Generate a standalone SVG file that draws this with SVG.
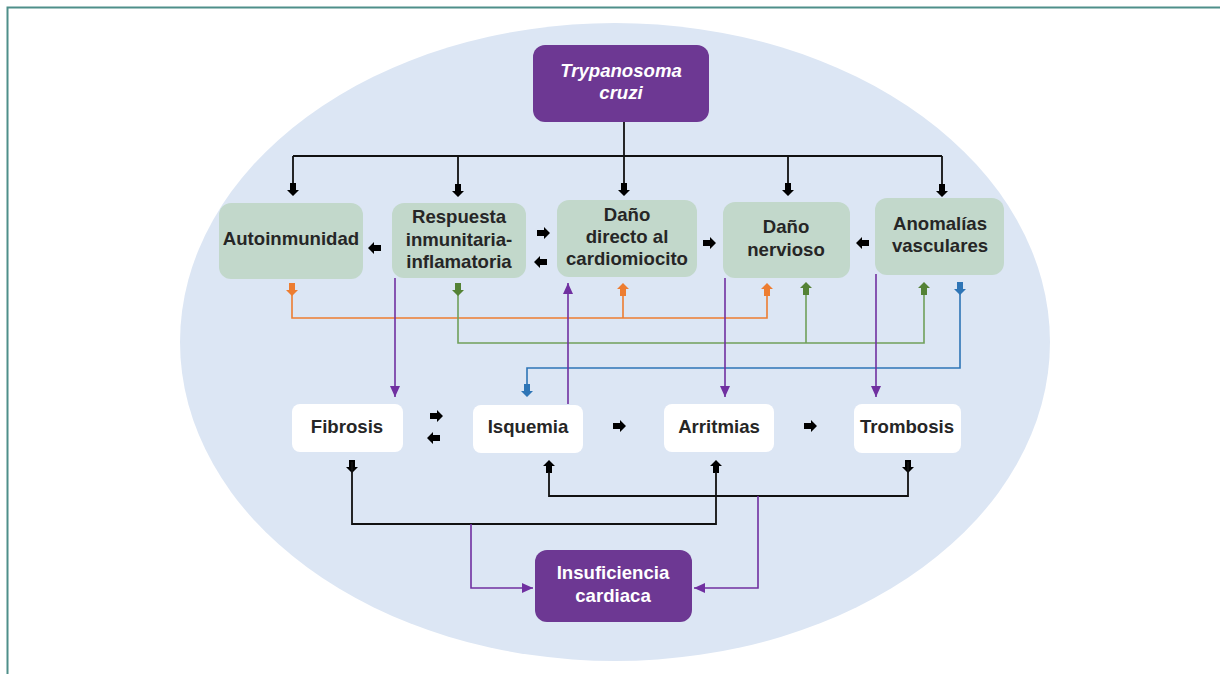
<svg xmlns="http://www.w3.org/2000/svg" xmlns:xlink="http://www.w3.org/1999/xlink" width="1220" height="674" viewBox="0 0 1220 674">
<style>
.t{font-family:"Liberation Sans",Arial,sans-serif;font-weight:bold;font-size:18.6px;fill:#262626;text-anchor:middle}
.w{fill:#ffffff}
.g{fill:#c2d8cb}
.wb{fill:#ffffff}
.p{fill:#6d3893}
.k{fill:none;stroke:#111;stroke-width:1.8}
.o{fill:none;stroke:#ed7d31;stroke-width:1.6}
.gr{fill:none;stroke:#70a05a;stroke-width:1.6}
.b{fill:none;stroke:#2e75b6;stroke-width:1.6}
.pl{fill:none;stroke:#7030a0;stroke-width:1.6}
</style>
<defs>
<path id="ad" d="M-3,-13 L3,-13 L3,-6 L6,-6 L0,0 L-6,-6 L-3,-6 Z"/>
<path id="au" d="M-3,13 L3,13 L3,6 L6,6 L0,0 L-6,6 L-3,6 Z"/>
<path id="ar" d="M-13,-3 L-6,-3 L-6,-6 L0,0 L-6,6 L-6,3 L-13,3 Z"/>
<path id="al" d="M13,-3 L6,-3 L6,-6 L0,0 L6,6 L6,3 L13,3 Z"/>
<marker id="pm" markerUnits="userSpaceOnUse" markerWidth="12" markerHeight="12" viewBox="0 0 12 12" refX="11" refY="6" orient="auto">
<path d="M0,1 L11,6 L0,11 Z" fill="#7030a0"/>
</marker>
</defs>
<rect x="0" y="0" width="1220" height="674" fill="#ffffff"/>
<path d="M7.5,674 L7.5,7.5 L1220,7.5" fill="none" stroke="#4f8f8a" stroke-width="2"/>
<ellipse cx="615" cy="342" rx="435" ry="319" fill="#dce6f4"/>

<g id="connectors">
<path class="k" d="M624,122 V156 M293,156 H942 M293,156 V184 M458,156 V184 M624,156 V184 M788,156 V184 M942,156 V184"/>
<g fill="#000">
<use xlink:href="#ad" x="293" y="196"/>
<use xlink:href="#ad" x="458" y="197"/>
<use xlink:href="#ad" x="624" y="196"/>
<use xlink:href="#ad" x="788" y="196"/>
<use xlink:href="#ad" x="942" y="197"/>
<use xlink:href="#al" x="368" y="248"/>
<use xlink:href="#ar" x="550" y="233"/>
<use xlink:href="#al" x="534" y="262"/>
<use xlink:href="#ar" x="716" y="243"/>
<use xlink:href="#al" x="856" y="243"/>
<use xlink:href="#ar" x="443" y="416"/>
<use xlink:href="#al" x="427" y="438"/>
<use xlink:href="#ar" x="626" y="426"/>
<use xlink:href="#ar" x="817" y="426"/>
<use xlink:href="#ad" x="352" y="473"/>
<use xlink:href="#au" x="549" y="460"/>
<use xlink:href="#au" x="716" y="460"/>
<use xlink:href="#ad" x="908" y="473"/>
</g>
<path class="k" d="M352,462 V524 H716 V472 M549,472 V496 H908 V462"/>
<path class="o" d="M292,290 V318 H767 V295 M623,295 V318"/>
<g fill="#ed7d31">
<use xlink:href="#ad" x="292" y="296"/>
<use xlink:href="#au" x="623" y="283"/>
<use xlink:href="#au" x="767" y="283"/>
</g>
<path class="gr" d="M458,290 V343 H924 V294 M806,294 V343"/>
<g fill="#548235">
<use xlink:href="#ad" x="458" y="296"/>
<use xlink:href="#au" x="806" y="282"/>
<use xlink:href="#au" x="924" y="282"/>
</g>
<path class="b" d="M960,289 V368 H527 V390"/>
<g fill="#2e75b6">
<use xlink:href="#ad" x="960" y="295"/>
<use xlink:href="#ad" x="527" y="397"/>
</g>
<path class="pl" d="M395,278 V397" marker-end="url(#pm)"/>
<path class="pl" d="M568,404 V283" marker-end="url(#pm)"/>
<path class="pl" d="M725,278 V397" marker-end="url(#pm)"/>
<path class="pl" d="M876,274 V397" marker-end="url(#pm)"/>
<path class="pl" d="M471,524 V588 H533" marker-end="url(#pm)"/>
<path class="pl" d="M758,496 V588 H694" marker-end="url(#pm)"/>
</g>

<g id="n-trypanosoma">
<rect class="p" x="533" y="45" width="176" height="77" rx="12"/>
<text class="t w" x="621" y="77" font-style="italic">Trypanosoma</text>
<text class="t w" x="621" y="99" font-style="italic">cruzi</text>
</g>
<g id="n-autoinmunidad">
<rect class="g" x="219" y="203" width="144" height="76" rx="12"/>
<text class="t" x="291" y="245">Autoinmunidad</text>
</g>
<g id="n-respuesta">
<rect class="g" x="392" y="203" width="134" height="75" rx="12"/>
<text class="t" x="459" y="223">Respuesta</text>
<text class="t" x="459" y="246">inmunitaria-</text>
<text class="t" x="459" y="268">inflamatoria</text>
</g>
<g id="n-dano-directo">
<rect class="g" x="557" y="200" width="140" height="77" rx="12"/>
<text class="t" x="627" y="221">Daño</text>
<text class="t" x="627" y="243">directo al</text>
<text class="t" x="627" y="265">cardiomiocito</text>
</g>
<g id="n-dano-nervioso">
<rect class="g" x="723" y="202" width="127" height="76" rx="12"/>
<text class="t" x="786" y="233">Daño</text>
<text class="t" x="786" y="256">nervioso</text>
</g>
<g id="n-anomalias">
<rect class="g" x="875" y="198" width="129" height="77" rx="12"/>
<text class="t" x="940" y="230">Anomalías</text>
<text class="t" x="940" y="252">vasculares</text>
</g>
<g id="n-fibrosis">
<rect class="wb" x="292" y="404" width="111" height="48" rx="8"/>
<text class="t" x="347" y="433">Fibrosis</text>
</g>
<g id="n-isquemia">
<rect class="wb" x="473" y="405" width="110" height="48" rx="8"/>
<text class="t" x="528" y="433">Isquemia</text>
</g>
<g id="n-arritmias">
<rect class="wb" x="664" y="404" width="110" height="48" rx="8"/>
<text class="t" x="719" y="433">Arritmias</text>
</g>
<g id="n-trombosis">
<rect class="wb" x="854" y="404" width="107" height="49" rx="8"/>
<text class="t" x="907" y="433">Trombosis</text>
</g>
<g id="n-insuficiencia">
<rect class="p" x="535" y="550" width="157" height="72" rx="12"/>
<text class="t w" x="613" y="579">Insuficiencia</text>
<text class="t w" x="613" y="602">cardiaca</text>
</g>
</svg>
